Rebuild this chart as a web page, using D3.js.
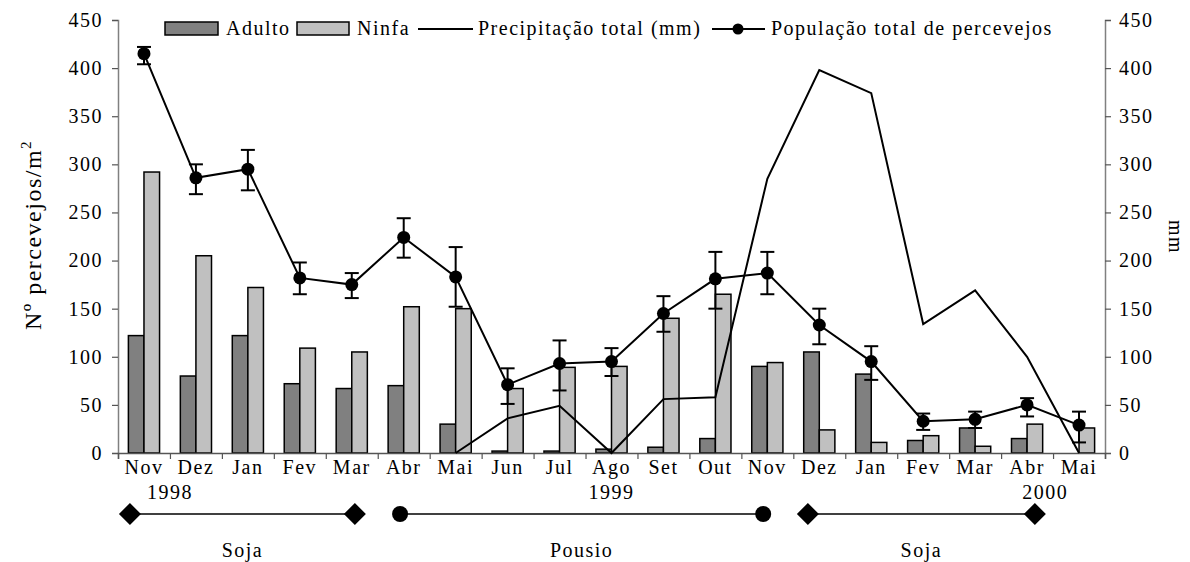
<!DOCTYPE html>
<html>
<head>
<meta charset="utf-8">
<script src="https://cdn.jsdelivr.net/npm/d3@7"></script>
<style>
  body { margin: 0; background: #fff; }
  text { font-family: "Liberation Serif", "Times New Roman", serif; fill: #000; letter-spacing: 1.5px; }
</style>
</head>
<body>
<svg width="1190" height="562"></svg>
<script>
const months = ["Nov", "Dez", "Jan", "Fev", "Mar", "Abr", "Mai", "Jun", "Jul", "Ago",
                "Set", "Out", "Nov", "Dez", "Jan", "Fev", "Mar", "Abr", "Mai"];
const adulto = [122, 80, 122, 72, 67, 70, 30, 2, 2, 4, 6, 15, 90, 105, 82, 13, 26, 15, 0];
const ninfa = [292, 205, 172, 109, 105, 152, 150, 67, 89, 90, 140, 165, 94, 24, 11, 18, 7, 30, 26];
const populacao = [415, 286, 295, 182, 175, 224, 183, 71, 93, 95, 145, 181, 187, 133, 95, 33, 35, 50, 29];
const popLow = [404, 269, 273, 165, 161, 203, 152, 51, 65, 80, 126, 150, 165, 113, 76, 24, 26, 38, 11];
const popHigh = [422, 300, 315, 198, 187, 244, 214, 88, 117, 109, 163, 209, 209, 150, 111, 41, 43, 57, 43];
// precipitation starts in May 1999 (index 6)
const precipitacao = [null, null, null, null, null, null, 0, 36, 49, 0, 56, 58, 285, 398, 374, 134, 169, 100, 0];
const yTicks = [0, 50, 100, 150, 200, 250, 300, 350, 400, 450];
const years = [{label: "1998", at: 1.0}, {label: "1999", at: 9.5}, {label: "2000", at: 17.85}];
const phases = [
  {label: "Soja", from: 0.23, to: 4.56, mark: "diamond"},
  {label: "Pousio", from: 5.43, to: 12.42, mark: "circle"},
  {label: "Soja", from: 13.28, to: 17.65, mark: "diamond"}
];

const svg = d3.select("svg");
const mLeft = 118, mRight = 1105, mTop = 20, mBottom = 453;
const fs = 20;

const x = d3.scaleBand().domain(d3.range(months.length)).range([mLeft, mRight]).padding(0);
const xi = d3.scaleLinear().domain([0, months.length]).range([mLeft, mRight]);
const y = d3.scaleLinear().domain([0, 450]).range([mBottom, mTop]);
const y2 = d3.scaleLinear().domain([0, 450]).range([mBottom, mTop]);
const bw = x.bandwidth() * 0.3;
const cx = i => x(i) + x.bandwidth() / 2;

// bars
svg.append("g").selectAll("rect")
    .data(adulto)
    .enter().append("rect")
    .attr("x", (d, i) => cx(i) - bw)
    .attr("y", d => y(d))
    .attr("width", bw)
    .attr("height", d => y(0) - y(d))
    .attr("fill", "#808080")
    .attr("stroke", "#000")
    .attr("stroke-width", 1.5);

svg.append("g").selectAll("rect")
    .data(ninfa)
    .enter().append("rect")
    .attr("x", (d, i) => cx(i))
    .attr("y", d => y(d))
    .attr("width", bw)
    .attr("height", d => y(0) - y(d))
    .attr("fill", "#c0c0c0")
    .attr("stroke", "#000")
    .attr("stroke-width", 1.5);

// axes
const axL = svg.append("g")
    .attr("transform", `translate(${mLeft},0)`)
    .call(d3.axisLeft(y).tickValues(yTicks).tickSize(6).tickPadding(9));
const axR = svg.append("g")
    .attr("transform", `translate(${mRight},0)`)
    .call(d3.axisRight(y2).tickValues(yTicks).tickSize(6).tickPadding(8));
const axB = svg.append("g")
    .attr("transform", `translate(0,${mBottom})`)
    .call(d3.axisBottom(xi).tickValues(d3.range(months.length + 1)).tickSize(6).tickFormat(""));
[axL, axR, axB].forEach(a => {
  a.select(".domain").attr("stroke", "#808080").attr("stroke-width", 1.5);
  a.selectAll(".tick line").attr("stroke", "#555").attr("stroke-width", 1.2);
  a.selectAll(".tick text").style("font-size", fs + "px").style("font-family", "Liberation Serif");
});
axB.select(".domain").attr("stroke", "#555");

// precipitation line
const precLine = d3.line()
    .defined(d => d !== null)
    .x((d, i) => cx(i))
    .y(d => y2(d));
svg.append("path")
    .datum(precipitacao)
    .attr("d", precLine)
    .attr("fill", "none")
    .attr("stroke", "#000")
    .attr("stroke-width", 2);

// population line
svg.append("path")
    .datum(populacao)
    .attr("d", d3.line().x((d, i) => cx(i)).y(d => y(d)))
    .attr("fill", "none")
    .attr("stroke", "#000")
    .attr("stroke-width", 2);

const err = svg.append("g").attr("stroke", "#000").attr("stroke-width", 2);
populacao.forEach((d, i) => {
  const c = cx(i);
  err.append("line").attr("x1", c).attr("x2", c).attr("y1", y(popLow[i])).attr("y2", y(popHigh[i]));
  err.append("line").attr("x1", c - 7).attr("x2", c + 7).attr("y1", y(popLow[i])).attr("y2", y(popLow[i]));
  err.append("line").attr("x1", c - 7).attr("x2", c + 7).attr("y1", y(popHigh[i])).attr("y2", y(popHigh[i]));
});
svg.append("g").selectAll("circle")
    .data(populacao)
    .enter().append("circle")
    .attr("cx", (d, i) => cx(i))
    .attr("cy", d => y(d))
    .attr("r", 6.5)
    .attr("fill", "#000");

// month labels
svg.append("g").selectAll("text")
    .data(months)
    .enter().append("text")
    .attr("x", (d, i) => cx(i))
    .attr("y", 474)
    .attr("text-anchor", "middle")
    .style("font-size", fs + "px")
    .text(d => d);

svg.append("g").selectAll("text")
    .data(years)
    .enter().append("text")
    .attr("x", d => xi(d.at))
    .attr("y", 499)
    .attr("text-anchor", "middle")
    .style("font-size", fs + "px")
    .text(d => d.label);

// crop phases
const ph = svg.append("g");
phases.forEach(p => {
  const x1 = xi(p.from), x2 = xi(p.to), yy = 514;
  ph.append("line").attr("x1", x1).attr("x2", x2).attr("y1", yy).attr("y2", yy)
      .attr("stroke", "#000").attr("stroke-width", 1.5);
  [x1, x2].forEach(px => {
    if (p.mark === "diamond") {
      ph.append("path")
          .attr("d", `M${px - 11},${yy} L${px},${yy - 11} L${px + 11},${yy} L${px},${yy + 11} Z`)
          .attr("fill", "#000");
    } else {
      ph.append("circle").attr("cx", px).attr("cy", yy).attr("r", 8).attr("fill", "#000");
    }
  });
  ph.append("text")
      .attr("x", (x1 + x2) / 2)
      .attr("y", 557)
      .attr("text-anchor", "middle")
      .style("font-size", fs + "px")
      .text(p.label);
});

// axis titles
svg.append("text")
    .attr("transform", "translate(41,235) rotate(-90)")
    .attr("text-anchor", "middle")
    .style("font-size", "24px")
    .html('Nº percevejos/m<tspan dy="-10" font-size="15">2</tspan>');
svg.append("text")
    .attr("transform", "translate(1169,237) rotate(90)")
    .attr("text-anchor", "middle")
    .style("font-size", fs + "px")
    .text("mm");

// legend
const lg = svg.append("g");
lg.append("rect").attr("x", 165).attr("y", 22).attr("width", 53).attr("height", 13)
    .attr("fill", "#808080").attr("stroke", "#000").attr("stroke-width", 1.5);
lg.append("text").attr("x", 226).attr("y", 35).style("font-size", fs + "px").text("Adulto");
lg.append("rect").attr("x", 297).attr("y", 22).attr("width", 52).attr("height", 13)
    .attr("fill", "#c0c0c0").attr("stroke", "#000").attr("stroke-width", 1.5);
lg.append("text").attr("x", 357).attr("y", 35).style("font-size", fs + "px").text("Ninfa");
lg.append("line").attr("x1", 418).attr("x2", 473).attr("y1", 29).attr("y2", 29)
    .attr("stroke", "#000").attr("stroke-width", 2);
lg.append("text").attr("x", 478).attr("y", 35).style("font-size", fs + "px").text("Precipitação total (mm)");
lg.append("line").attr("x1", 712).attr("x2", 765).attr("y1", 29).attr("y2", 29)
    .attr("stroke", "#000").attr("stroke-width", 2);
lg.append("circle").attr("cx", 738).attr("cy", 29).attr("r", 5.5).attr("fill", "#000");
lg.append("text").attr("x", 771).attr("y", 35).style("font-size", fs + "px").text("População total de percevejos");
</script>
</body>
</html>
